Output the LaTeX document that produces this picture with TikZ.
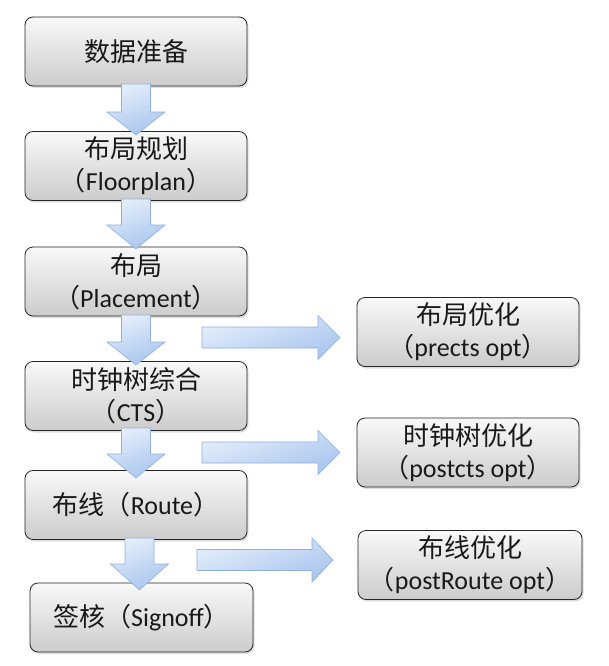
\documentclass[tikz,border=0pt]{standalone}
\usepackage{fontspec}
\setmainfont{Carlito}
\newfontfamily\cjk{Noto Sans CJK SC}
\usetikzlibrary{shadows}
\newcommand\zh[1]{{\cjk #1}}
\definecolor{arrlight}{HTML}{E4EEFB}
\definecolor{arrdark}{HTML}{A9C5EE}
\definecolor{arrline}{HTML}{8FB0DE}
\begin{document}
\begin{tikzpicture}[x=1pt,y=-1pt,
  stepbox/.style={draw=black!85, line width=0.8pt, rounded corners=8pt,
    top color=gray!5, bottom color=gray!40, minimum width=222pt,
    minimum height=69pt, inner sep=0pt, align=center, text=black!90,
    font=\fontsize{26}{32}\selectfont,
    drop shadow={opacity=0.25, shadow xshift=1.5pt, shadow yshift=-2pt}},
  blockarrow/.style={draw=arrline, line width=0.6pt, shading=axis,
    top color=arrlight, bottom color=arrdark, shading angle=20}]
\useasboundingbox (0,0) rectangle (609,666);
\fill[white] (0,0) rectangle (609,666);
% main column
\node[stepbox] (b1) at (136,51.5) {\zh{数据准备}};
\node[stepbox] (b2) at (136,166) {\zh{布局规划}\\\zh{（}Floorplan\zh{）}};
\node[stepbox] (b3) at (136,281.5) {\zh{布局}\\\zh{（}Placement\zh{）}};
\node[stepbox] (b4) at (136,396) {\zh{时钟树综合}\\\zh{（}CTS\zh{）}};
\node[stepbox] (b5) at (136,505) {\zh{布线（}Route\zh{）}};
\node[stepbox, minimum width=223pt] (b6) at (141.5,617.5) {\zh{签核（}Signoff\zh{）}};
% optimisation column
\node[stepbox] (o1) at (468,332) {\zh{布局优化}\\\zh{（}prects opt\zh{）}};
\node[stepbox] (o2) at (468,452.5) {\zh{时钟树优化}\\\zh{（}postcts opt\zh{）}};
\node[stepbox, minimum width=224pt] (o3) at (470,565) {\zh{布线优化}\\\zh{（}postRoute opt\zh{）}};
% down arrows
\foreach \x/\t/\h/\p in {136/84/112/135, 136/199/225/249, 136/315/342/365, 136/428/454/478, 139.5/538/564/590}{
  \draw[blockarrow] (\x-14.5,\t) -- (\x+14.5,\t) -- (\x+14.5,\h) -- (\x+29,\h)
    -- (\x,\p) -- (\x-29,\h) -- (\x-14.5,\h) -- cycle;
}
% right arrows
\foreach \s/\h/\p/\m in {202/318/340/337.5, 202/318/340/452.5, 197/312/333/560}{
  \draw[blockarrow] (\s,\m-10.5) -- (\h,\m-10.5) -- (\h,\m-22) -- (\p,\m)
    -- (\h,\m+22) -- (\h,\m+10.5) -- (\s,\m+10.5) -- cycle;
}
\end{tikzpicture}
\end{document}
